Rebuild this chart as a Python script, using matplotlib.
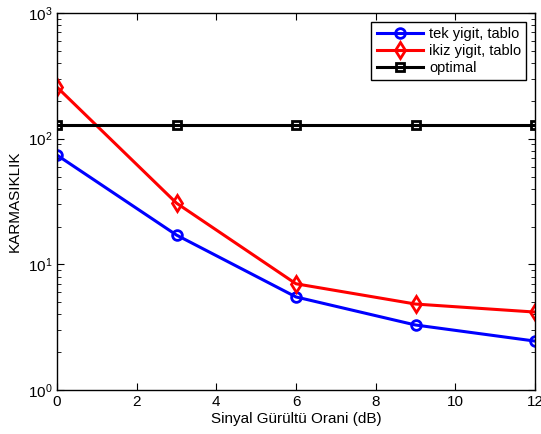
import matplotlib
matplotlib.use("Agg")
import matplotlib.pyplot as plt

plt.rcParams['font.family'] = ['Liberation Sans', 'DejaVu Sans']

snr = [0, 3, 6, 9, 12]
tek_yigit = [74, 17.1, 5.5, 3.29, 2.45]
ikiz_yigit = [257, 30.7, 7.0, 4.83, 4.17]
optimal = [128, 128, 128, 128, 128]

fig = plt.figure(figsize=(5.41, 4.34), dpi=100)
ax = fig.add_axes([0.1054, 0.1014, 0.8835, 0.8686])

ax.semilogy(snr, tek_yigit, color="blue", marker="o", lw=2.2, ms=7,
            mfc="none", mew=2, label="tek yigit, tablo")
ax.semilogy(snr, ikiz_yigit, color="red", marker="d", lw=2.2, ms=8,
            mfc="none", mew=2, label="ikiz yigit, tablo")
ax.semilogy(snr, optimal, color="black", marker="s", lw=2.2, ms=6,
            mfc="none", mew=2, label="optimal")

ax.set_xlim(0, 12)
ax.set_ylim(1, 1000)
ax.set_xticks([0, 2, 4, 6, 8, 10, 12])
ax.tick_params(which="both", direction="in", top=True, right=True, labelsize=11)
ax.tick_params(which="major", length=5)
ax.tick_params(which="minor", length=3)
ax.tick_params(axis="x", which="minor", bottom=False, top=False)
for s in ax.spines.values():
    s.set_linewidth(1)

ax.set_xlabel("Sinyal Gürültü Orani (dB)", fontsize=11, labelpad=2)
ax.set_ylabel("KARMASIKLIK", fontsize=11, labelpad=4)

leg = ax.legend(loc="upper right", fontsize=10.5, fancybox=False,
                edgecolor="black", framealpha=1, borderpad=0.35,
                labelspacing=0.2, handlelength=3.2, handletextpad=0.4,
                borderaxespad=0.6)
leg.get_frame().set_linewidth(1)

fig.savefig("out.png", dpi=100)
